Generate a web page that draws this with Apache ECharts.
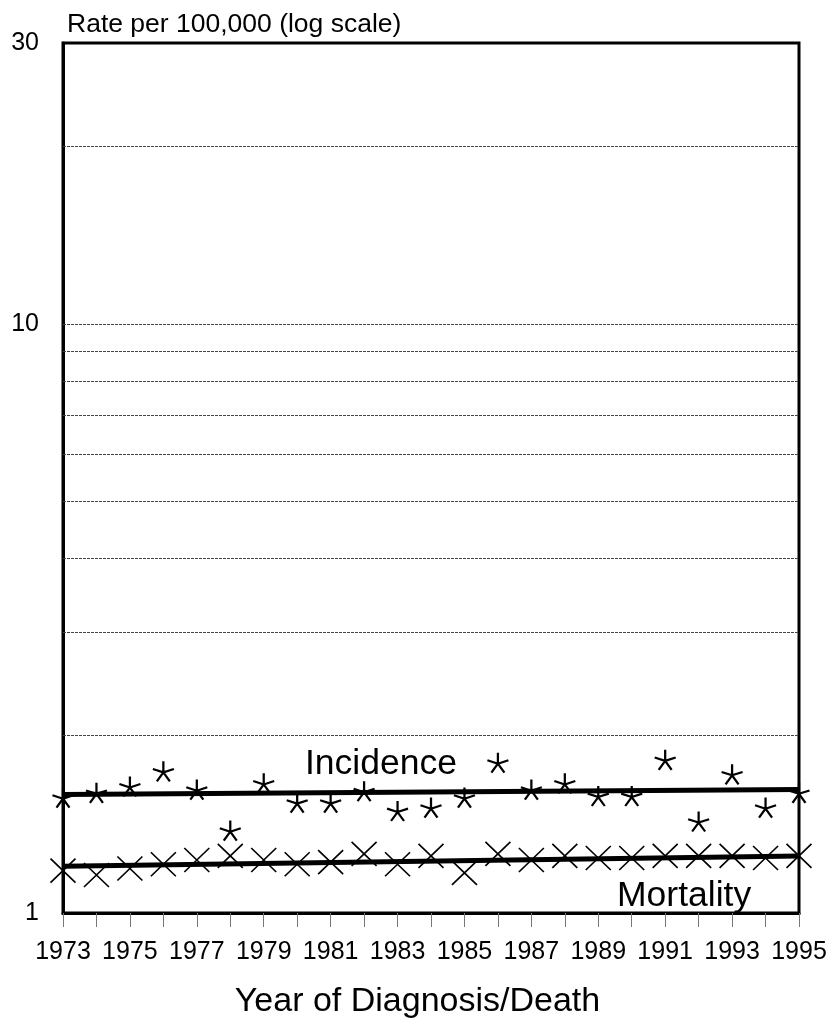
<!DOCTYPE html>
<html>
<head>
<meta charset="utf-8">
<script src="https://cdn.jsdelivr.net/npm/echarts@6/dist/echarts.min.js"></script>
<style>html,body{margin:0;padding:0;background:#fff}#c{width:833px;height:1029px}</style>
</head>
<body>
<div id="c"></div>
<script>
const years = [1973,1974,1975,1976,1977,1978,1979,1980,1981,1982,1983,1984,1985,1986,1987,1988,1989,1990,1991,1992,1993,1994,1995];
const incidence = [1.57,1.60,1.64,1.74,1.62,1.38,1.66,1.54,1.54,1.61,1.49,1.51,1.57,1.80,1.62,1.66,1.58,1.58,1.82,1.43,1.72,1.51,1.60];
const mortality = [1.18,1.16,1.19,1.21,1.23,1.25,1.23,1.21,1.22,1.26,1.21,1.25,1.17,1.26,1.23,1.25,1.24,1.24,1.25,1.25,1.25,1.24,1.25];
const incidenceTrendYears = [1973,1995];
const incidenceTrend = [1.59,1.62];
const mortalityTrendYears = [1973,1995];
const mortalityTrend = [1.20,1.25];
const gridValues = [2,3,4,5,6,7,8,9,10,20];
const yLabels = [1,10,30];

const FONT = 'Liberation Sans, Arial, sans-serif';
const asterisk = 'path://M0,-10L0,0M9.51,-3.09L0,0M-9.51,-3.09L0,0M5.88,8.09L0,0M-5.88,8.09L0,0';
const cross = 'path://M0,0L10,10M10,0L0,10';

const chart = echarts.init(document.getElementById('c'), null, {renderer:'canvas'});
chart.setOption({
  animation:false,
  backgroundColor:'#fff',
  grid:{left:63,right:34,top:43,bottom:116,show:true,borderColor:'#000',borderWidth:3,backgroundColor:'transparent'},
  xAxis:{
    type:'value',min:1973,max:1995,interval:1,
    name:'Year of Diagnosis/Death',nameLocation:'middle',nameGap:72,
    nameTextStyle:{fontFamily:FONT,fontSize:34,color:'#000',padding:[0,27,0,0]},
    axisLine:{show:true,lineStyle:{color:'#000',width:3}},
    axisTick:{show:true,length:14,lineStyle:{color:'#777',width:1}},
    axisLabel:{margin:27,fontFamily:FONT,fontSize:25,color:'#000',
      formatter:v=> (years.indexOf(v)%2===0 ? String(v) : '')},
    splitLine:{show:false}
  },
  yAxis:{
    type:'log',logBase:10,min:1,max:30,
    name:'Rate per 100,000 (log scale)',nameLocation:'end',nameGap:5,
    nameTextStyle:{fontFamily:FONT,fontSize:26.5,color:'#000',align:'left',verticalAlign:'bottom',padding:[0,0,0,4]},
    axisLine:{show:true,lineStyle:{color:'#000',width:3}},
    axisTick:{show:false},
    axisLabel:{margin:24,fontFamily:FONT,fontSize:25,color:'#000',
      formatter:v=> (yLabels.indexOf(Math.round(v))>=0 ? String(Math.round(v)) : ''),
      showMinLabel:true,showMaxLabel:true},
    splitLine:{show:false}
  },
  graphic:[
    {type:'text',left:305,top:746,style:{text:'Incidence',fontFamily:FONT,fontSize:35.5,fill:'#000'}},
    {type:'text',left:617,top:878,style:{text:'Mortality',fontFamily:FONT,fontSize:35.5,fill:'#000'}}
  ],
  series:[
    {type:'line',data:[],silent:true,
      markLine:{silent:true,symbol:'none',label:{show:false},
        lineStyle:{color:'#444',width:1,type:[3,1]},
        data:gridValues.map(v=>({yAxis:v}))}},
    {type:'line',name:'Incidence trend',data:incidenceTrendYears.map((y,i)=>[y,incidenceTrend[i]]),
      symbol:'none',lineStyle:{color:'#000',width:5},z:3},
    {type:'line',name:'Mortality trend',data:mortalityTrendYears.map((y,i)=>[y,mortalityTrend[i]]),
      symbol:'none',lineStyle:{color:'#000',width:5},z:3},
    {type:'scatter',name:'Incidence',clip:false,data:years.map((y,i)=>[y,incidence[i]]),
      symbol:asterisk,symbolSize:[21,20],
      itemStyle:{color:'transparent',borderColor:'#000',borderWidth:2.2,opacity:1},z:4},
    {type:'scatter',name:'Mortality',clip:false,data:years.map((y,i)=>[y,mortality[i]]),
      symbol:cross,symbolSize:[25,24],
      itemStyle:{color:'transparent',borderColor:'#000',borderWidth:1.6,opacity:1},z:4}
  ]
});
</script>
</body>
</html>
